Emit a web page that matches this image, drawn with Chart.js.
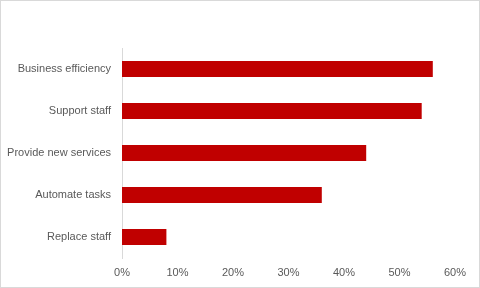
<!DOCTYPE html>
<html>
<head>
<meta charset="utf-8">
<script src="https://cdn.jsdelivr.net/npm/chart.js@4/dist/chart.umd.min.js"></script>
<style>
  html, body { margin: 0; padding: 0; background: #fff; }
  #box { width: 480px; height: 288px; box-sizing: border-box; border: 1px solid #d9d9d9; position: relative; }
</style>
</head>
<body>
<div id="box"><canvas id="myChart"></canvas></div>
<script>
// chart data
let labels1 = ['Business efficiency', 'Support staff', 'Provide new services', 'Automate tasks', 'Replace staff'];
let values1 = [56, 54, 44, 36, 8];
let ticks1 = [0, 10, 20, 30, 40, 50, 60];

let ctx = document.getElementById('myChart').getContext('2d');
let chart1 = new Chart(ctx, {
    type: 'bar',
    data: {
        labels: labels1,
        datasets: [{
            data: values1,
            backgroundColor: '#c00000',
            categoryPercentage: 1,
            barPercentage: 0.38
        }]
    },
    options: {
        indexAxis: 'y',
        responsive: true,
        maintainAspectRatio: false,
        animation: false,
        layout: { padding: { top: 47, right: 24, bottom: 6, left: 0 } },
        plugins: {
            legend: { display: false },
            tooltip: { enabled: false }
        },
        scales: {
            x: {
                min: 0,
                max: 60,
                afterBuildTicks: function (s) { s.ticks = ticks1.map(function (v) { return { value: v }; }); },
                afterFit: function (s) { s.height = 23; },
                grid: { display: false, drawTicks: false },
                border: { display: false },
                ticks: {
                    padding: 8,
                    color: '#595959',
                    font: { family: 'Liberation Sans', size: 11 },
                    callback: function (v) { return v + '%'; }
                }
            },
            y: {
                afterFit: function (s) { s.width = 121; },
                grid: { display: false, drawTicks: false },
                border: { display: true, color: '#d9d9d9', width: 1 },
                ticks: {
                    padding: 11,
                    color: '#595959',
                    font: { family: 'Liberation Sans', size: 11 }
                }
            }
        }
    }
});
</script>
</body>
</html>
